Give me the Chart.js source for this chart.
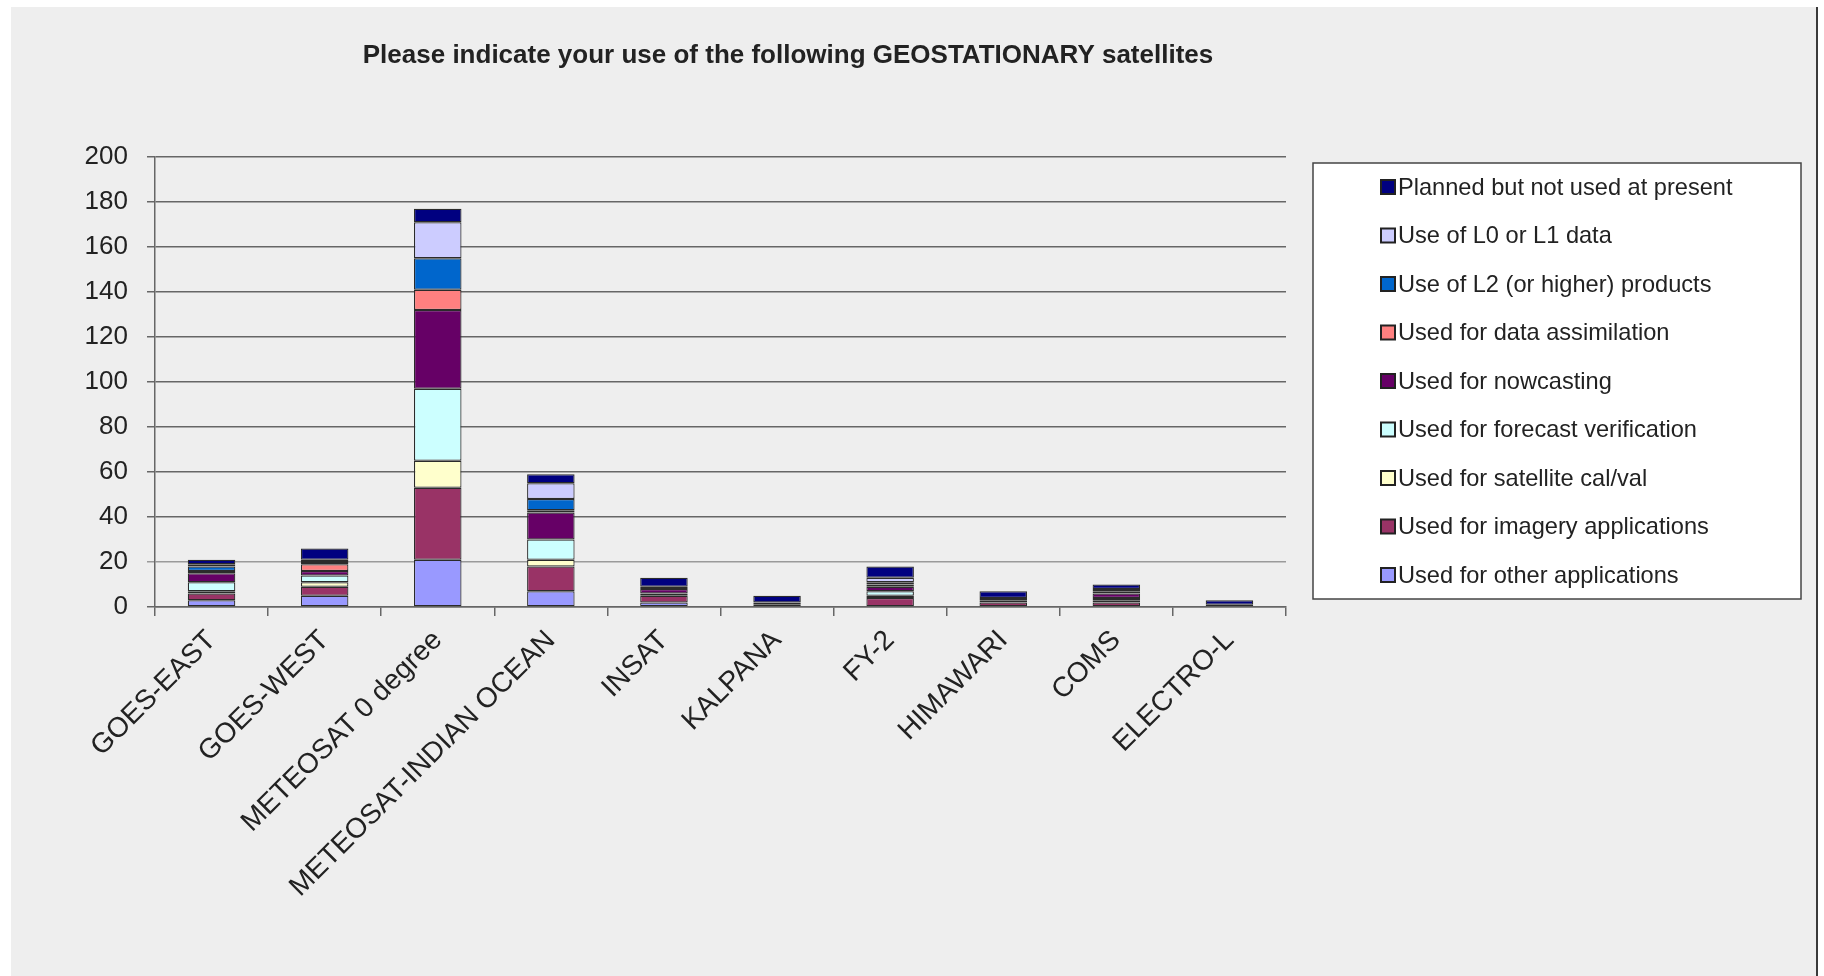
<!DOCTYPE html>
<html>
<head>
<meta charset="utf-8">
<script src="https://cdn.jsdelivr.net/npm/chart.js@4.4.1/dist/chart.umd.min.js"></script>
<style>
html,body{margin:0;padding:0;background:#ffffff;}
#wrap{width:1824px;height:976px;position:relative;}
canvas{display:block;}
</style>
</head>
<body>
<div id="wrap"><canvas id="c" width="1824" height="976"></canvas></div>
<script>
const titleText = 'Please indicate your use of the following GEOSTATIONARY satellites';
const categories = ['GOES-EAST', 'GOES-WEST', 'METEOSAT 0 degree', 'METEOSAT-INDIAN OCEAN', 'INSAT', 'KALPANA', 'FY-2', 'HIMAWARI', 'COMS', 'ELECTRO-L'];
const seriesNames = ['Used for other applications', 'Used for imagery applications', 'Used for satellite cal/val', 'Used for forecast verification', 'Used for nowcasting', 'Used for data assimilation', 'Use of L2 (or higher) products', 'Use of L0 or L1 data', 'Planned but not used at present'];
const seriesColors = ['#9999FF', '#993366', '#FFFFCC', '#CCFFFF', '#660066', '#FF8080', '#0066CC', '#CCCCFF', '#000080'];
const otherApps   = [3, 5, 21, 7, 2, 0, 0, 0, 0, 0];
const imagery     = [3, 4, 32, 11, 3, 1, 4, 2, 2, 1];
const calVal      = [1, 2, 12, 3, 0, 0, 1, 0, 1, 0];
const forecastVer = [4, 3, 32, 9, 1, 0, 2, 1, 1, 0];
const nowcasting  = [4, 2, 35, 12, 2, 1, 2, 1, 2, 0];
const dataAssim   = [1, 3, 9, 1, 0, 0, 1, 0, 0, 0];
const l2Products  = [2, 1, 14, 5, 1, 0, 1, 0, 1, 0];
const l0l1Data    = [1, 1, 16, 7, 0, 0, 2, 0, 1, 0];
const planned     = [2, 5, 6, 4, 4, 3, 5, 3, 2, 2];
const yMin = 0, yMax = 200, yStep = 20;

const seriesValues = [otherApps, imagery, calVal, forecastVer, nowcasting, dataAssim, l2Products, l0l1Data, planned];
const FONT = "'Liberation Sans', Arial, sans-serif";

const datasets = seriesValues.map((vals, i) => ({
  label: seriesNames[i],
  data: vals,
  backgroundColor: seriesColors[i],
  borderColor: '#2b2b2b',
  borderWidth: (ctx) => (ctx.raw ? 1.2 : 0),
  borderSkipped: false,
  categoryPercentage: 1.0,
  barPercentage: 0.42
}));

const bgPlugin = {
  id: 'bgPlugin',
  beforeDraw(chart) {
    const ctx = chart.ctx;
    ctx.save();
    ctx.fillStyle = '#ffffff';
    ctx.fillRect(0, 0, chart.width, chart.height);
    ctx.fillStyle = '#eeeeee';
    ctx.fillRect(11, 7, 1806, chart.height - 7);
    ctx.fillStyle = '#3a3a3a';
    ctx.fillRect(1816, 7, 2, chart.height - 7);
    ctx.restore();
  }
};

const shiftTitle = {
  id: 'shiftTitle',
  afterLayout(chart) {
    const t = chart.titleBlock;
    if (t) {
      const w = t.right - t.left;
      t.left = 788 - w / 2;
      t.right = 788 + w / 2;
    }
  }
};

const boxLegend = {
  id: 'boxLegend',
  afterDraw(chart) {
    const ctx = chart.ctx;
    const box = { x: 1313, y: 163, w: 488, h: 436 };
    ctx.save();
    ctx.fillStyle = '#ffffff';
    ctx.fillRect(box.x, box.y, box.w, box.h);
    ctx.strokeStyle = '#444444';
    ctx.lineWidth = 1.5;
    ctx.strokeRect(box.x, box.y, box.w, box.h);
    const ds = chart.data.datasets.slice().reverse();
    ctx.font = '23.6px ' + FONT;
    ctx.textBaseline = 'middle';
    ctx.textAlign = 'left';
    ds.forEach((d, i) => {
      const cy = 187 + i * 48.5;
      ctx.fillStyle = d.backgroundColor;
      ctx.fillRect(1381, cy - 7, 14, 14);
      ctx.strokeStyle = '#222222';
      ctx.lineWidth = 2;
      ctx.strokeRect(1381, cy - 7, 14, 14);
      ctx.fillStyle = '#222222';
      ctx.fillText(d.label, 1398, cy + 1);
    });
    ctx.restore();
  }
};

new Chart(document.getElementById('c'), {
  type: 'bar',
  data: { labels: categories, datasets: datasets },
  options: {
    responsive: false,
    animation: false,
    devicePixelRatio: 1,
    layout: { padding: { top: 0, left: 0, right: 538, bottom: 0 } },
    plugins: {
      legend: { display: false },
      tooltip: { enabled: false },
      title: {
        display: true,
        text: titleText,
        color: '#222222',
        font: { family: FONT, size: 26, weight: 'bold' },
        padding: { top: 40, bottom: 85.8 }
      }
    },
    scales: {
      x: {
        stacked: true,
        afterFit: (s) => { s.height = 369; },
        grid: { display: true, drawOnChartArea: false, drawTicks: true, tickLength: 9, color: '#666666', lineWidth: 1.5, offset: true },
        border: { display: true, color: '#666666', width: 1.5 },
        ticks: { color: '#222222', font: { family: FONT, size: 28 }, minRotation: 45, maxRotation: 45, autoSkip: false, padding: 8 }
      },
      y: {
        stacked: true,
        min: yMin, max: yMax,
        afterFit: (s) => { s.width = 155; },
        grid: {
          color: (c) => (c.tick && c.tick.value === 20 ? '#9a9a9a' : '#666666'),
          lineWidth: 1.5, drawTicks: true, tickLength: 8
        },
        border: { display: true, color: '#666666', width: 1.5 },
        ticks: { stepSize: yStep, color: '#222222', font: { family: FONT, size: 26 }, padding: 19 }
      }
    }
  },
  plugins: [bgPlugin, shiftTitle, boxLegend]
});
</script>
</body>
</html>
